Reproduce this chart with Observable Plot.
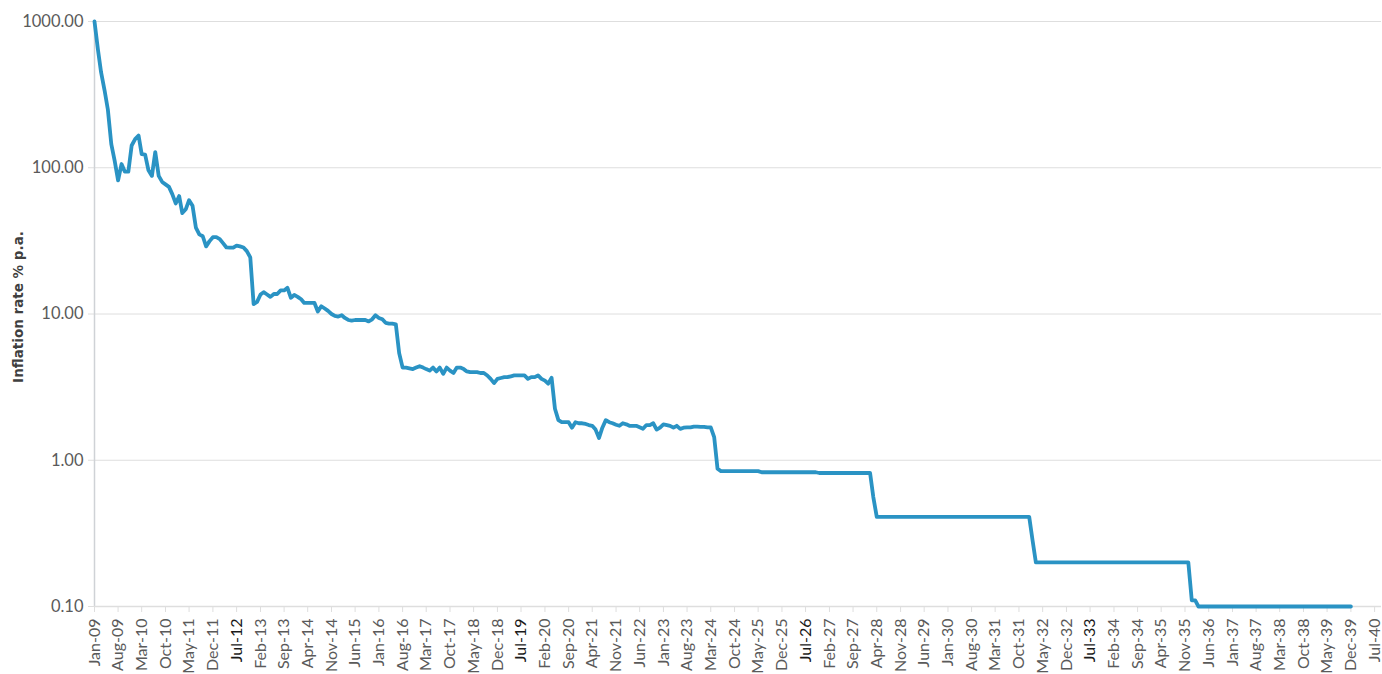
<!DOCTYPE html>
<html>
<head>
<meta charset="utf-8">
<script src="https://cdn.jsdelivr.net/npm/d3@7"></script>
<script src="https://cdn.jsdelivr.net/npm/@observablehq/plot@0.6"></script>
<style>
  html, body { margin: 0; padding: 0; background: #ffffff; }
  #chart { width: 1382px; height: 674px; }
</style>
</head>
<body>
<div id="chart"></div>
<script>
// ---- Data (monthly, starting Jan-09) ----
const startMonth = "Jan-09";
const inflationPct = [
  // 2009
  1000, 640, 450, 340, 250, 145, 112, 82, 106, 94, 94, 142,
  // 2010
  157, 166, 124, 123, 96, 88, 128, 88, 80, 77, 74, 66,
  // 2011
  57, 64, 49, 52, 60, 55, 39, 35, 34, 29, 31.5, 33.5,
  // 2012
  33.5, 32.5, 30.5, 28.5, 28.4, 28.4, 29.3, 29, 28.5, 26.9, 24.4, 11.7,
  // 2013
  12.1, 13.6, 14.1, 13.6, 13.1, 13.7, 13.7, 14.5, 14.5, 15.1, 12.9, 13.5,
  // 2014
  13.1, 12.6, 11.9, 11.9, 11.9, 11.9, 10.4, 11.3, 10.9, 10.5, 10.0, 9.7,
  // 2015
  9.6, 9.8, 9.4, 9.1, 9.0, 9.1, 9.1, 9.1, 9.1, 8.9, 9.2, 9.8,
  // 2016
  9.4, 9.2, 8.7, 8.6, 8.6, 8.5, 5.4, 4.3, 4.3, 4.25, 4.2, 4.3,
  // 2017
  4.4, 4.3, 4.2, 4.1, 4.3, 4.05, 4.3, 3.9, 4.3, 4.1, 3.95, 4.3,
  // 2018
  4.3, 4.2, 4.05, 4.0, 4.0, 4.0, 3.95, 3.95, 3.8, 3.6, 3.37, 3.6,
  // 2019
  3.65, 3.7, 3.7, 3.75, 3.8, 3.8, 3.8, 3.8, 3.6, 3.7, 3.7, 3.8,
  // 2020
  3.6, 3.5, 3.34, 3.66, 2.25, 1.88, 1.82, 1.82, 1.82, 1.67, 1.82, 1.79,
  // 2021
  1.79, 1.77, 1.74, 1.72, 1.62, 1.42, 1.67, 1.88, 1.82, 1.79, 1.75, 1.72,
  // 2022
  1.79, 1.76, 1.72, 1.72, 1.72, 1.68, 1.64, 1.74, 1.74, 1.79, 1.62, 1.67,
  // 2023
  1.76, 1.74, 1.72, 1.67, 1.72, 1.64, 1.67, 1.68, 1.68, 1.70, 1.70, 1.69,
  // 2024
  1.69, 1.68, 1.68, 1.44, 0.875, 0.842, 0.842, 0.842, 0.842, 0.842, 0.842, 0.842,
  // 2025
  0.842, 0.842, 0.842, 0.842, 0.842, 0.828, 0.828, 0.828, 0.828, 0.828, 0.828, 0.828,
  // 2026
  0.828, 0.828, 0.828, 0.828, 0.828, 0.828, 0.828, 0.828, 0.828, 0.828, 0.818, 0.818,
  // 2027
  0.818, 0.818, 0.818, 0.818, 0.818, 0.818, 0.818, 0.818, 0.818, 0.818, 0.818, 0.818,
  // 2028
  0.818, 0.818, 0.56, 0.41, 0.41, 0.41, 0.41, 0.41, 0.41, 0.41, 0.41, 0.41,
  // 2029
  0.41, 0.41, 0.41, 0.41, 0.41, 0.41, 0.41, 0.41, 0.41, 0.41, 0.41, 0.41,
  // 2030
  0.41, 0.41, 0.41, 0.41, 0.41, 0.41, 0.41, 0.41, 0.41, 0.41, 0.41, 0.41,
  // 2031
  0.41, 0.41, 0.41, 0.41, 0.41, 0.41, 0.41, 0.41, 0.41, 0.41, 0.41, 0.41,
  // 2032
  0.41, 0.28, 0.20, 0.20, 0.20, 0.20, 0.20, 0.20, 0.20, 0.20, 0.20, 0.20,
  // 2033
  0.20, 0.20, 0.20, 0.20, 0.20, 0.20, 0.20, 0.20, 0.20, 0.20, 0.20, 0.20,
  // 2034
  0.20, 0.20, 0.20, 0.20, 0.20, 0.20, 0.20, 0.20, 0.20, 0.20, 0.20, 0.20,
  // 2035
  0.20, 0.20, 0.20, 0.20, 0.20, 0.20, 0.20, 0.20, 0.20, 0.20, 0.20, 0.20,
  // 2036
  0.11, 0.11, 0.10, 0.10, 0.10, 0.10, 0.10, 0.10, 0.10, 0.10, 0.10, 0.10,
  // 2037
  0.10, 0.10, 0.10, 0.10, 0.10, 0.10, 0.10, 0.10, 0.10, 0.10, 0.10, 0.10,
  // 2038
  0.10, 0.10, 0.10, 0.10, 0.10, 0.10, 0.10, 0.10, 0.10, 0.10, 0.10, 0.10,
  // 2039
  0.10, 0.10, 0.10, 0.10, 0.10, 0.10, 0.10, 0.10, 0.10, 0.10, 0.10, 0.10
];
const xTickLabels = ["Jan-09","Aug-09","Mar-10","Oct-10","May-11","Dec-11","Jul-12","Feb-13","Sep-13","Apr-14","Nov-14","Jun-15","Jan-16","Aug-16","Mar-17","Oct-17","May-18","Dec-18","Jul-19","Feb-20","Sep-20","Apr-21","Nov-21","Jun-22","Jan-23","Aug-23","Mar-24","Oct-24","May-25","Dec-25","Jul-26","Feb-27","Sep-27","Apr-28","Nov-28","Jun-29","Jan-30","Aug-30","Mar-31","Oct-31","May-32","Dec-32","Jul-33","Feb-34","Sep-34","Apr-35","Nov-35","Jun-36","Jan-37","Aug-37","Mar-38","Oct-38","May-39","Dec-39","Jul-40"];
const emphasizedTickLabels = ["Jul-12","Jul-19","Jul-26","Jul-33"];
const xDomainLabels = ["Jan-09", "Sep-40"];
const yTicks = [0.1, 1, 10, 100, 1000];
const yAxisTitle = "Inflation rate % p.a.";

// ---- Build ----
const parseMonth = d3.utcParse("%b-%y");
const fmtMonth = d3.utcFormat("%b-%y");
const start = parseMonth(startMonth);
const data = inflationPct.map((v, i) => ({date: d3.utcMonth.offset(start, i), value: v}));
const tickDates = xTickLabels.map(parseMonth);
const xDomain = xDomainLabels.map(parseMonth);

const FONT = "Lato, 'Open Sans', sans-serif";
const lineColor = "#2a93c4";
const gridColor = "#dedede";
const axisColor = "#cfd2d6";

const chart = Plot.plot({
  width: 1382,
  height: 674,
  marginTop: 21,
  marginBottom: 68,
  marginLeft: 94,
  marginRight: 1,
  style: {fontFamily: FONT, fontSize: "16px", color: "#5a5a5a", background: "#ffffff", overflow: "visible"},
  x: {type: "utc", domain: xDomain},
  y: {type: "log", domain: [0.1, 1000]},
  marks: [
    Plot.gridY(yTicks, {stroke: gridColor, strokeOpacity: 1, strokeWidth: 1}),
    Plot.axisY(yTicks, {
      tickFormat: d => d3.format(".2f")(d),
      tickSize: 6, tickPadding: 5, stroke: gridColor, fontSize: 16.5, label: null
    }),
    Plot.ruleX(xDomain.slice(0, 1), {stroke: axisColor, strokeWidth: 1.5}),
    Plot.ruleY([0.1], {stroke: gridColor, strokeWidth: 1.5}),
    Plot.axisX(tickDates, {
      tickFormat: fmtMonth, tickRotate: -90, tickSize: 6, tickPadding: 6,
      stroke: gridColor, fontSize: 16, label: null
    }),
    Plot.lineY(data, {x: "date", y: "value", stroke: lineColor, strokeWidth: 3.8, curve: "linear"}),
    Plot.text([yAxisTitle], {
      frameAnchor: "left", rotate: -90, dx: -76, dy: -7, fontWeight: "bold",
      fontSize: 13.5, fill: "#3f3f3f", textAnchor: "middle",
      fontFamily: "'DejaVu Sans', sans-serif"
    })
  ]
});

// emphasize a few tick labels (dark), as in the original
const emph = new Set(emphasizedTickLabels);
chart.querySelectorAll('[aria-label="x-axis tick label"] text').forEach(t => {
  if (emph.has(t.textContent)) t.setAttribute("fill", "#1a1a1a");
});

document.getElementById("chart").appendChild(chart);
</script>
</body>
</html>
